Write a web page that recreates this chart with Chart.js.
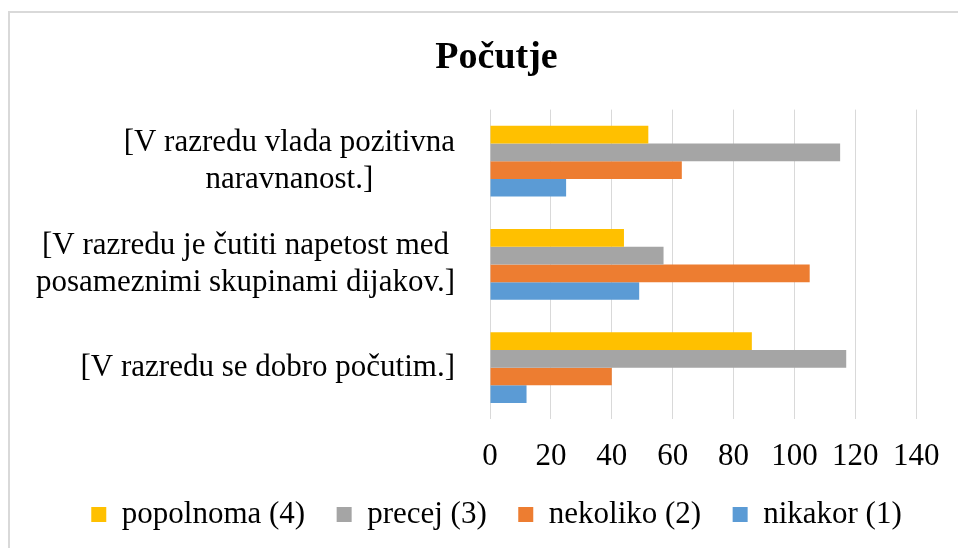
<!DOCTYPE html>
<html>
<head>
<meta charset="utf-8">
<script src="https://cdn.jsdelivr.net/npm/chart.js@4.4.0/dist/chart.umd.min.js"></script>
<style>
html, body { margin: 0; padding: 0; background: #fff; }
#wrap { position: relative; width: 958px; height: 548px; overflow: hidden; }
#frame { position: absolute; left: 8px; top: 11px; width: 960px; height: 560px; border: 2px solid #d9d9d9; box-sizing: border-box; }
canvas { position: absolute; left: 0; top: 0; }
</style>
</head>
<body>
<div id="wrap"><div id="frame"></div><canvas id="bar_chart" width="958" height="548"></canvas></div>
<script>
var categories = [
    ['[V razredu vlada pozitivna', 'naravnanost.]'],
    ['[V razredu je čutiti napetost med', 'posameznimi skupinami dijakov.]'],
    ['[V razredu se dobro počutim.]']
];
var popolnoma = [52, 44, 86];
var precej = [115, 57, 117];
var nekoliko = [63, 105, 40];
var nikakor = [25, 49, 12];
var xTicks = [0, 20, 40, 60, 80, 100, 120, 140];

var serif = "'Liberation Serif', 'Times New Roman', serif";
Chart.defaults.font.family = serif;
Chart.defaults.font.size = 31;
Chart.defaults.color = '#000';

// y labels: block right-aligned to the axis, lines centred inside the block
var yLabels = {
    id: 'yLabels',
    afterDraw: function(chart) {
        var ctx = chart.ctx, scale = chart.scales.y;
        var lh = 31 * 1.2;
        ctx.save();
        ctx.font = '31px ' + serif;
        ctx.fillStyle = '#000';
        ctx.textAlign = 'center';
        ctx.textBaseline = 'middle';
        categories.forEach(function(lines, i) {
            var y = scale.getPixelForTick(i);
            var w = 0;
            lines.forEach(function(t) { w = Math.max(w, ctx.measureText(t).width); });
            var cx = scale.right - 35 - w / 2;
            lines.forEach(function(t, j) {
                ctx.fillText(t, cx, y + (j - (lines.length - 1) / 2) * lh);
            });
        });
        ctx.restore();
    }
};

var barData = {
    labels: categories,
    datasets: [
        { label: 'popolnoma (4)', backgroundColor: '#FFC000', data: popolnoma },
        { label: 'precej (3)', backgroundColor: '#A5A5A5', data: precej },
        { label: 'nekoliko (2)', backgroundColor: '#ED7D31', data: nekoliko },
        { label: 'nikakor (1)', backgroundColor: '#5B9BD5', data: nikakor }
    ]
};

var barOptions = {
    indexAxis: 'y',
    responsive: false,
    animation: false,
    categoryPercentage: 0.685,
    barPercentage: 1,
    layout: { padding: { top: 12, left: 35, right: 0, bottom: 8 } },
    scales: {
        x: {
            min: 0,
            max: 140,
            afterBuildTicks: function(s) { s.ticks = xTicks.map(function(v) { return { value: v }; }); },
            afterFit: function(s) { s.height -= 26; },
            grid: { color: '#d9d9d9', lineWidth: 1, drawTicks: false },
            border: { display: false },
            ticks: { padding: 18.5 }
        },
        y: {
            grid: { display: false },
            border: { display: false },
            ticks: { display: false },
            afterFit: function(s) { s.width = 455; }
        },
        // empty strip on the right, keeps the plot narrower than the legend
        pad: {
            axis: 'y',
            type: 'category',
            position: 'right',
            grid: { display: false },
            border: { display: false },
            ticks: { display: false },
            afterFit: function(s) { s.width = 38; }
        }
    },
    plugins: {
        title: {
            display: true,
            text: 'Počutje',
            font: { size: 38, weight: 'bold' },
            padding: { top: 23, bottom: 29 }
        },
        legend: {
            position: 'bottom',
            labels: { boxWidth: 15, boxHeight: 15, padding: 31.5 }
        },
        tooltip: { enabled: false }
    }
};

var ctx = document.getElementById('bar_chart');
new Chart(ctx, { type: 'bar', data: barData, options: barOptions, plugins: [yLabels] });
</script>
</body>
</html>
